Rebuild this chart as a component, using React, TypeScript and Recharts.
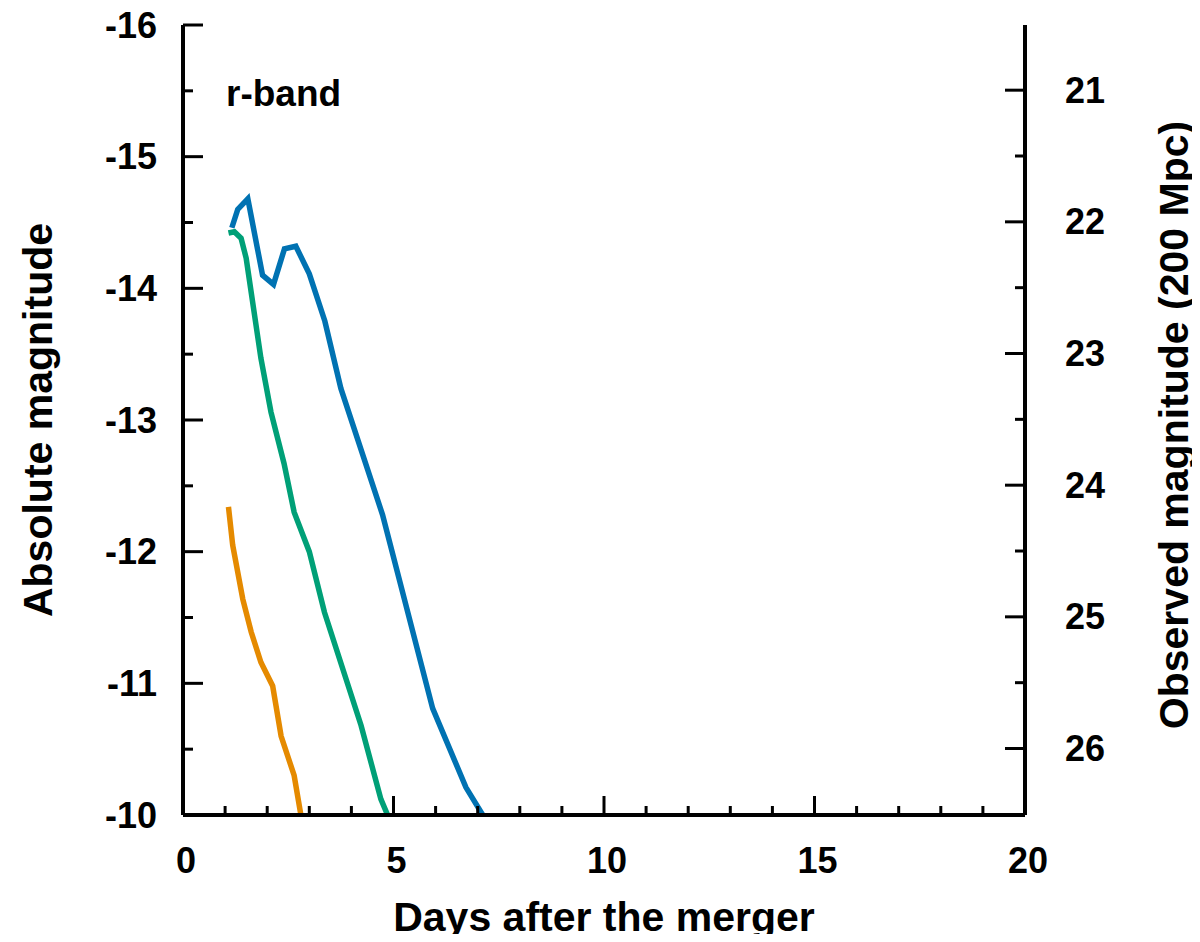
import React from 'react';
import { LineChart, Line, XAxis, YAxis, Label } from 'recharts';

const blueDays = [1.16, 1.30, 1.54, 1.89, 2.15, 2.41, 2.68, 3.0, 3.37, 3.75, 4.74, 5.93, 6.72, 7.12];
const blueMag = [-14.46, -14.60, -14.68, -14.10, -14.03, -14.30, -14.32, -14.11, -13.75, -13.24, -12.28, -10.81, -10.21, -10.0];

const greenDays = [1.08, 1.22, 1.38, 1.50, 1.85, 2.09, 2.40, 2.64, 3.0, 3.36, 4.23, 4.70, 4.86];
const greenMag = [-14.42, -14.43, -14.38, -14.23, -13.47, -13.06, -12.67, -12.30, -12.0, -11.54, -10.68, -10.12, -10.0];

const orangeDays = [1.08, 1.18, 1.42, 1.62, 1.85, 2.13, 2.33, 2.64, 2.80];
const orangeMag = [-12.34, -12.05, -11.64, -11.39, -11.16, -10.98, -10.60, -10.30, -10.0];

const xTicks = [0, 1, 2, 3, 4, 5, 6, 7, 8, 9, 10, 11, 12, 13, 14, 15, 16, 17, 18, 19, 20];
const xMajor = [0, 5, 10, 15, 20];
const leftTicks = [-16, -15.5, -15, -14.5, -14, -13.5, -13, -12.5, -12, -11.5, -11, -10.5, -10];
const rightTicks = [21, 21.5, 22, 22.5, 23, 23.5, 24, 24.5, 25, 25.5, 26];
const absDomain = [-16, -10];
const distanceModulus = 36.505; // 200 Mpc
const obsDomain = [absDomain[0] + distanceModulus, absDomain[1] + distanceModulus];

const toRows = (days: number[], mags: number[]) => days.map((d, i) => ({ day: d, mag: mags[i] }));
const blueData = toRows(blueDays, blueMag);
const greenData = toRows(greenDays, greenMag);
const orangeData = toRows(orangeDays, orangeMag);

const FONT = '"Liberation Sans", Arial, Helvetica, sans-serif';
const TICK_FS = 36;
const TITLE_FS = 41;
const AXIS_W = 4;

const isInt = (v: number) => Math.abs(v - Math.round(v)) < 1e-6;

const BottomTick = (props: any) => {
  const { x, y, payload } = props;
  const v = payload.value;
  const major = xMajor.includes(v);
  const len = major ? 19 : 9;
  return (
    <g>
      <line x1={x} y1={y} x2={x} y2={y - len} stroke="#000" strokeWidth={3} />
      {major && (
        <text x={x + 3} y={y + 45} textAnchor="middle" dominantBaseline="central"
          fontFamily={FONT} fontWeight="bold" fontSize={TICK_FS} fill="#000">{v}</text>
      )}
    </g>
  );
};

const TopTick = (props: any) => {
  const { x, y, payload } = props;
  const v = payload.value;
  const major = xMajor.includes(v);
  const len = major ? 19 : 9;
  return <line x1={x} y1={y} x2={x} y2={y + len} stroke="#000" strokeWidth={3} />;
};

const LeftTick = (props: any) => {
  const { x, y, payload } = props;
  const v = payload.value;
  const major = isInt(v);
  const len = major ? 20 : 10;
  return (
    <g>
      <line x1={x} y1={y} x2={x + len} y2={y} stroke="#000" strokeWidth={3} />
      {major && (
        <text x={x - 26} y={y} textAnchor="end" dominantBaseline="central"
          fontFamily={FONT} fontWeight="bold" fontSize={TICK_FS} fill="#000">{v}</text>
      )}
    </g>
  );
};

const RightTick = (props: any) => {
  const { x, y, payload } = props;
  const v = payload.value;
  const major = isInt(v);
  const len = major ? 20 : 10;
  return (
    <g>
      <line x1={x} y1={y} x2={x - len} y2={y} stroke="#000" strokeWidth={3} />
      {major && (
        <text x={x + 40} y={y} textAnchor="start" dominantBaseline="central"
          fontFamily={FONT} fontWeight="bold" fontSize={TICK_FS} fill="#000">{v}</text>
      )}
    </g>
  );
};

const axisLine = { stroke: '#000', strokeWidth: AXIS_W };

export default function App() {
  return (
    <div style={{ position: 'relative', width: 1200, height: 942, margin: -8 }}>
      <LineChart width={1200} height={942} margin={{ top: 25, right: 0, bottom: 0, left: 0 }}>
        <XAxis xAxisId="bottom" type="number" dataKey="day" domain={[0, 20]} ticks={xTicks}
          interval={0} allowDataOverflow height={127} axisLine={axisLine} tickLine={false}
          tickSize={0} tickMargin={0} tick={<BottomTick />}>
          <Label content={(p: any) => {
            const vb = p.viewBox;
            return (
              <text x={vb.x + vb.width / 2} y={vb.y + 102} textAnchor="middle" dominantBaseline="central"
                fontFamily={FONT} fontWeight="bold" fontSize={TITLE_FS} fill="#000">Days after the merger</text>
            );
          }} />
        </XAxis>
        <XAxis xAxisId="top" orientation="top" type="number" dataKey="day" domain={[0, 20]} ticks={xTicks}
          interval={0} allowDataOverflow height={0} axisLine={axisLine} tickLine={false}
          tickSize={0} tickMargin={0} tick={<TopTick />} />
        <YAxis yAxisId="left" type="number" reversed domain={absDomain} ticks={leftTicks} interval={0}
          allowDataOverflow width={183} axisLine={axisLine} tickLine={false} tickSize={0} tickMargin={0}
          tick={<LeftTick />}>
          <Label content={(p: any) => {
            const vb = p.viewBox;
            const cx = 38;
            const cy = vb.y + vb.height / 2;
            return (
              <text x={cx} y={cy} transform={`rotate(-90 ${cx} ${cy})`} textAnchor="middle" dominantBaseline="central"
                fontFamily={FONT} fontWeight="bold" fontSize={TITLE_FS} fill="#000">Absolute magnitude</text>
            );
          }} />
        </YAxis>
        <YAxis yAxisId="right" orientation="right" type="number" reversed domain={obsDomain} ticks={rightTicks}
          interval={0} allowDataOverflow width={175} axisLine={axisLine} tickLine={false} tickSize={0}
          tickMargin={0} tick={<RightTick />}>
          <Label content={(p: any) => {
            const vb = p.viewBox;
            const cx = vb.x + 149;
            const cy = vb.y + vb.height / 2 + 5;
            return (
              <text x={cx} y={cy} transform={`rotate(-90 ${cx} ${cy})`} textAnchor="middle" dominantBaseline="central"
                fontFamily={FONT} fontWeight="bold" fontSize={TITLE_FS} fill="#000">Observed magnitude (200 Mpc)</text>
            );
          }} />
        </YAxis>
        <Line xAxisId="bottom" yAxisId="left" data={orangeData} dataKey="mag" type="linear"
          stroke="#E58A00" strokeWidth={5.5} dot={false} isAnimationActive={false} />
        <Line xAxisId="bottom" yAxisId="left" data={greenData} dataKey="mag" type="linear"
          stroke="#00A077" strokeWidth={5.5} dot={false} isAnimationActive={false} />
        <Line xAxisId="bottom" yAxisId="left" data={blueData} dataKey="mag" type="linear"
          stroke="#0072B2" strokeWidth={5.5} dot={false} isAnimationActive={false} />
      </LineChart>
      <div style={{ position: 'absolute', left: 226, top: 74, fontFamily: FONT, fontWeight: 'bold',
        fontSize: 37, lineHeight: '40px', color: '#000' }}>r-band</div>
    </div>
  );
}
